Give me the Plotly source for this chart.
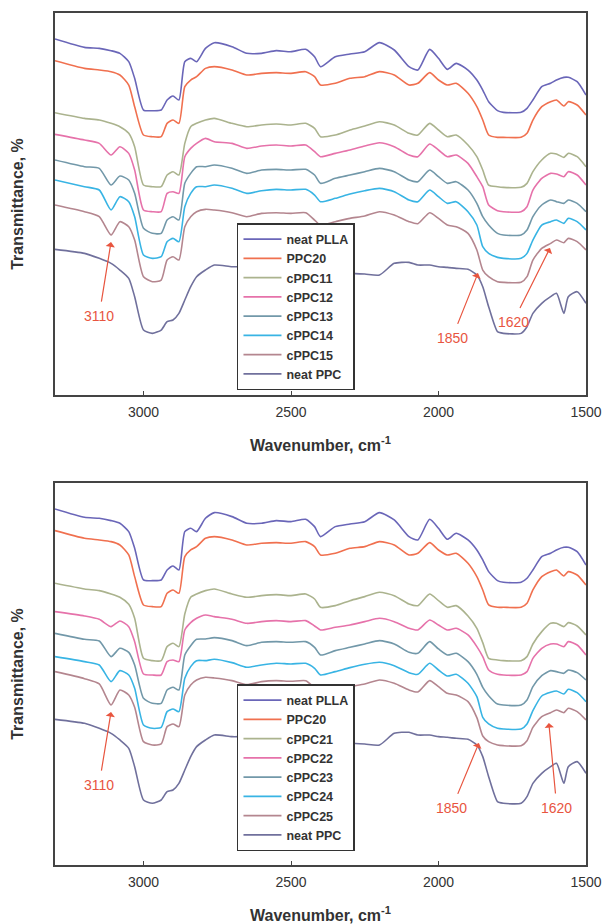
import plotly.graph_objects as go

# Wavenumber grid (cm-1)
wavenumber = [3300, 3200, 3150, 3110, 3080, 3050, 3030, 3000, 2970, 2940,
              2920, 2900, 2880, 2860, 2840, 2820, 2790, 2760, 2700, 2650,
              2600, 2550, 2500, 2450, 2420, 2400, 2350, 2300, 2250, 2200,
              2150, 2100, 2070, 2030, 2000, 1970, 1940, 1900, 1870, 1850,
              1830, 1800, 1780, 1720, 1700, 1680, 1650, 1620, 1600, 1575,
              1560, 1530, 1500]

# Stacked transmittance (arbitrary units)
neat_plla = [1068, 1043, 1040, 1033, 1025, 1000, 950, 855, 853, 855,
             885, 897, 885, 1000, 1010, 1000, 1040, 1057, 1045, 1025,
             1025, 1033, 1030, 1037, 1015, 985, 1015, 1023, 1030, 1057,
             1035, 985, 975, 1037, 1010, 977, 995, 975, 945, 915,
             880, 853, 848, 848, 860, 885, 925, 935, 945, 953,
             953, 940, 900]
ppc20 = [1003, 980, 975, 970, 960, 930, 865, 780, 775, 775,
         815, 825, 815, 925, 945, 955, 980, 985, 975, 960,
         965, 967, 965, 970, 955, 930, 935, 950, 955, 970,
         960, 930, 935, 967, 945, 930, 935, 905, 865, 825,
         780, 773, 773, 773, 785, 825, 865, 880, 885, 867,
         880, 870, 840]
neat_ppc = [437, 425, 410, 395, 375, 350, 295, 195, 185, 195,
            220, 225, 245, 285, 325, 355, 375, 390, 385, 385,
            380, 375, 373, 370, 365, 360, 363, 365, 363, 360,
            395, 398, 390, 390, 385, 383, 380, 377, 360, 325,
            265, 190, 185, 185, 205, 245, 275, 295, 305, 245,
            295, 310, 275]

# Panel (a) blends
cppc11 = [847, 830, 825, 815, 805, 785, 745, 630, 625, 625,
          660, 670, 660, 755, 805, 815, 825, 830, 815, 805,
          810, 813, 810, 815, 800, 775, 780, 795, 807, 820,
          810, 785, 780, 815, 795, 775, 780, 750, 715, 675,
          630, 625, 623, 623, 635, 670, 705, 725, 723, 713,
          725, 715, 685]
cppc12 = [782, 765, 755, 720, 745, 725, 675, 555, 550, 550,
          605, 610, 605, 715, 740, 755, 770, 760, 755, 740,
          747, 750, 747, 750, 730, 715, 725, 735, 747, 757,
          745, 720, 715, 753, 735, 715, 720, 695, 655, 625,
          570, 553, 550, 550, 565, 615, 650, 665, 663, 655,
          670, 660, 630]
cppc13 = [705, 685, 680, 630, 657, 645, 605, 500, 485, 485,
          525, 535, 525, 635, 665, 685, 685, 690, 680, 665,
          675, 677, 675, 677, 660, 635, 650, 660, 670, 680,
          670, 645, 640, 675, 655, 635, 640, 615, 575, 535,
          510, 485, 480, 480, 495, 535, 570, 585, 580, 575,
          585, 575, 550]
cppc14 = [645, 625, 615, 555, 595, 580, 535, 420, 410, 415,
          460, 470, 460, 565, 605, 625, 625, 630, 620, 605,
          613, 617, 615, 617, 600, 580, 590, 603, 613, 620,
          610, 585, 580, 615, 595, 575, 580, 550, 510, 445,
          425, 413, 410, 410, 425, 465, 510, 520, 525, 515,
          530, 520, 495]
cppc15 = [570, 550, 535, 480, 520, 505, 465, 355, 340, 345,
          405, 415, 405, 505, 535, 550, 557, 555, 547, 535,
          545, 547, 545, 547, 525, 510, 520, 530, 537, 550,
          540, 520, 514, 547, 530, 510, 505, 485, 435, 375,
          355, 340, 338, 338, 355, 405, 440, 455, 465, 457,
          470, 460, 435]

# Panel (b) blends
cppc21 = [845, 828, 823, 813, 803, 782, 740, 620, 613, 613,
          655, 665, 655, 753, 803, 813, 823, 828, 813, 803,
          808, 811, 808, 813, 798, 773, 778, 793, 805, 818,
          808, 783, 778, 813, 793, 773, 778, 747, 710, 667,
          620, 615, 613, 613, 625, 663, 700, 725, 725, 715,
          727, 717, 690]
cppc22 = [760, 747, 737, 715, 732, 715, 670, 573, 570, 570,
          610, 615, 610, 705, 727, 740, 750, 745, 737, 725,
          730, 733, 730, 733, 717, 705, 713, 720, 730, 740,
          730, 710, 705, 735, 720, 705, 710, 690, 655, 625,
          585, 572, 570, 570, 580, 620, 650, 663, 663, 655,
          670, 660, 630]
cppc23 = [695, 677, 672, 625, 650, 638, 600, 500, 485, 485,
          525, 533, 525, 630, 658, 677, 678, 682, 673, 658,
          668, 670, 668, 670, 653, 630, 643, 653, 663, 673,
          663, 638, 635, 670, 648, 630, 635, 610, 572, 533,
          508, 483, 480, 480, 495, 535, 568, 583, 580, 575,
          585, 577, 555]
cppc24 = [625, 610, 600, 550, 583, 570, 530, 420, 410, 413,
          460, 468, 460, 560, 595, 613, 613, 617, 607, 593,
          600, 605, 603, 605, 590, 570, 580, 592, 602, 608,
          598, 577, 572, 605, 585, 567, 572, 545, 505, 443,
          423, 410, 408, 408, 423, 463, 507, 518, 522, 513,
          527, 517, 490]
cppc25 = [580, 559, 543, 480, 525, 510, 473, 370, 360, 363,
          415, 423, 415, 510, 540, 555, 563, 561, 553, 541,
          550, 553, 551, 553, 531, 515, 525, 535, 543, 555,
          545, 525, 519, 553, 535, 515, 510, 490, 442, 387,
          370, 360, 358, 358, 373, 413, 445, 457, 465, 457,
          470, 460, 435]

names_a = ["neat PLLA", "PPC20", "cPPC11", "cPPC12", "cPPC13", "cPPC14", "cPPC15", "neat PPC"]
names_b = ["neat PLLA", "PPC20", "cPPC21", "cPPC22", "cPPC23", "cPPC24", "cPPC25", "neat PPC"]
series_a = [neat_plla, ppc20, cppc11, cppc12, cppc13, cppc14, cppc15, neat_ppc]
series_b = [neat_plla, ppc20, cppc21, cppc22, cppc23, cppc24, cppc25, neat_ppc]
colors = ["#6a66b8", "#f0704f", "#abb38e", "#e672aa", "#7298a9", "#38b4e4", "#b4868f", "#70709c"]

x_ticks = [3000, 2500, 2000, 1500]
x_title = "<b>Wavenumber, cm<sup>-1</sup></b>"
y_title = "<b>Transmittance, %</b>"

FONT = "Liberation Sans, Arial, sans-serif"
RED = "#e8553f"

fig = go.Figure()
for name, ys, col in zip(names_a, series_a, colors):
    fig.add_trace(go.Scatter(x=wavenumber, y=ys, name=name, mode="lines",
                             line=dict(color=col, width=1.6, shape="spline", smoothing=0.6),
                             xaxis="x", yaxis="y", legend="legend"))
for name, ys, col in zip(names_b, series_b, colors):
    fig.add_trace(go.Scatter(x=wavenumber, y=ys, name=name, mode="lines",
                             line=dict(color=col, width=1.6, shape="spline", smoothing=0.6),
                             xaxis="x2", yaxis="y2", legend="legend2"))

axis_common = dict(showline=True, linecolor="#444", linewidth=1.5, mirror=True,
                   showgrid=False, zeroline=False, automargin=False)
title_font = dict(family=FONT, size=16, color="#333")
xaxis_style = dict(axis_common, range=[3300, 1500], tickvals=x_ticks,
                   ticks="inside", ticklen=4, tickcolor="#444", tickwidth=1.2,
                   ticklabelstandoff=3,
                   tickfont=dict(family=FONT, size=14, color="#333"),
                   title=dict(text=x_title, font=title_font, standoff=21))
yaxis_style = dict(axis_common, range=[0, 1146], showticklabels=False, ticks="",
                   title=dict(text=y_title, font=title_font, standoff=26))

legend_style = dict(bgcolor="white", bordercolor="#333", borderwidth=1.5,
                    font=dict(family=FONT, size=12.5, color="#333", weight="bold"),
                    xanchor="left", yanchor="top", tracegroupgap=0, itemwidth=38)

annotations = []
# peak markers: (xref, yref, label, head_x, head_y, text offset ax, ay in px)
marks = [
    ("x", "y", "3110", 3110, 459, -12, 74),
    ("x", "y", "1850", 1866, 366, -26, 65),
    ("x", "y", "1620", 1622, 441, -37, 74),
    ("x2", "y2", "3110", 3110, 459, -12, 73),
    ("x2", "y2", "1850", 1863, 366, -27, 65),
    ("x2", "y2", "1620", 1626, 426, 8, 85),
]
for xr, yr, lab, hx, hy, ax, ay in marks:
    annotations.append(dict(xref=xr, yref=yr, x=hx, y=hy, ax=ax, ay=ay, text=lab,
                            showarrow=True, arrowhead=1, arrowsize=1.3, arrowwidth=1.2,
                            arrowcolor=RED, startstandoff=5,
                            font=dict(family=FONT, size=14, color=RED)))

fig.update_layout(
    width=603, height=924,
    margin=dict(l=55, r=17, t=13, b=59),
    paper_bgcolor="white", plot_bgcolor="white",
    showlegend=True,
    xaxis=dict(xaxis_style, domain=[0, 1], anchor="y"),
    yaxis=dict(yaxis_style, domain=[0.5516, 1], anchor="x"),
    xaxis2=dict(xaxis_style, domain=[0, 1], anchor="y2"),
    yaxis2=dict(yaxis_style, domain=[0, 0.4484], anchor="x2"),
    legend=dict(legend_style, x=0.3427, y=0.7535),
    legend2=dict(legend_style, x=0.3427, y=0.2124),
    annotations=annotations,
)

fig.write_html("out.html")
